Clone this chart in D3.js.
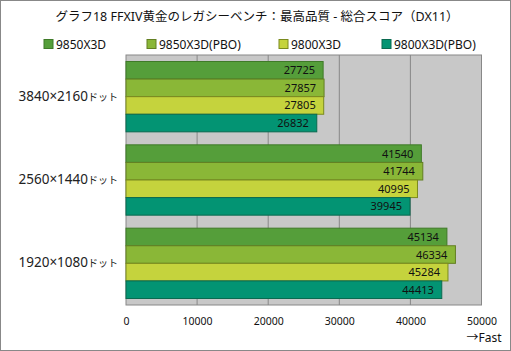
<html><head>
<script src="https://d3js.org/d3.v7.min.js"></script>
<style>
  body { margin: 0; background: #fff; }
  text { font-family: "Noto Sans", "Noto Sans CJK JP", sans-serif; }
</style>
</head><body>
<div id="chart"></div>
<script>
// data
const categories = ["3840×2160", "2560×1440", "1920×1080"];
const series = ["9850X3D", "9850X3D(PBO)", "9800X3D", "9800X3D(PBO)"];
const values9850 = [27725, 41540, 45134];
const values9850pbo = [27857, 41744, 46334];
const values9800 = [27805, 40995, 45284];
const values9800pbo = [26832, 39945, 44413];
const xTicks = [0, 10000, 20000, 30000, 40000, 50000];

const colors = ["#559e3a", "#8ab737", "#c5d33d", "#039473"];
const strokes = ["#3f7a28", "#637f22", "#7a8a1e", "#0a6a50"];

const allValues = [values9850, values9850pbo, values9800, values9800pbo];

const width = 511, height = 351;
const margin = {top: 55, left: 126, right: 29.5, bottom: 46};
const chartWidth = width - margin.left - margin.right;
const chartHeight = height - margin.top - margin.bottom;

let svg = d3.select("#chart").append("svg")
    .attr("width", width).attr("height", height);

// outer frame
svg.append("rect")
    .attr("x", 0.5).attr("y", 0.5)
    .attr("width", width - 1).attr("height", height - 1)
    .attr("fill", "#fff").attr("stroke", "#888");

// title
svg.append("text")
    .attr("x", 257).attr("y", 21)
    .attr("text-anchor", "middle")
    .attr("font-size", 12.5)
    .attr("fill", "#111")
    .text("グラフ18  FFXIV黄金のレガシーベンチ：最高品質 - 総合スコア（DX11）");

// legend
const legendX = [44, 147, 279, 382];
let legend = svg.append("g");
series.forEach((s, i) => {
    legend.append("rect")
        .attr("x", legendX[i]).attr("y", 39.5)
        .attr("width", 9).attr("height", 9)
        .attr("fill", colors[i]).attr("stroke", strokes[i]);
    legend.append("text")
        .attr("x", legendX[i] + 12).attr("y", 48.5)
        .attr("font-size", 12)
        .attr("fill", "#111")
        .text(s);
});

let xScale = d3.scaleLinear().domain([0, 50000]).range([0, chartWidth]);
let yScale = d3.scaleBand().domain(categories).range([0, chartHeight]).paddingInner(0.156).paddingOuter(0.078);
let ySub = d3.scaleBand().domain(series).range([0, yScale.bandwidth()]);

let chart = svg.append("g").attr("transform", "translate(" + margin.left + "," + margin.top + ")");

chart.append("rect")
    .attr("width", chartWidth).attr("height", chartHeight)
    .attr("fill", "#c8c8c8");

// gridlines
chart.selectAll(".grid").data(xTicks.slice(1, -1)).enter().append("line")
    .attr("x1", d => xScale(d)).attr("x2", d => xScale(d))
    .attr("y1", 0).attr("y2", chartHeight)
    .attr("stroke", "#888").attr("stroke-width", 1);

chart.append("rect")
    .attr("x", 0).attr("y", 0)
    .attr("width", chartWidth).attr("height", chartHeight)
    .attr("fill", "none").attr("stroke", "#888");

// bars
categories.forEach((c, ci) => {
    series.forEach((s, si) => {
        const v = allValues[si][ci];
        const y = yScale(c) + ySub(s);
        chart.append("rect")
            .attr("x", 0).attr("y", y)
            .attr("width", xScale(v)).attr("height", ySub.bandwidth())
            .attr("fill", colors[si])
            .attr("stroke", strokes[si]).attr("stroke-width", 1);
        chart.append("text")
            .attr("x", xScale(v) - 8).attr("y", y + ySub.bandwidth() / 2 + 4)
            .attr("text-anchor", "end")
            .attr("font-family", "DejaVu Sans")
            .attr("font-size", 11)
            .attr("fill", "#111")
            .text(v);
    });
    // category label
    let t = svg.append("text")
        .attr("x", margin.left - 8)
        .attr("y", margin.top + yScale(c) + yScale.bandwidth() / 2 + 4)
        .attr("text-anchor", "end")
        .attr("fill", "#222");
    t.append("tspan").attr("font-size", 13.5).text(c);
    t.append("tspan").attr("font-size", 10).text("ドット");
});

// x axis labels
let xAxis = d3.axisBottom(xScale).tickValues(xTicks).tickFormat(d3.format("d")).tickSize(0).tickPadding(13);
let axisG = chart.append("g")
    .attr("transform", "translate(0," + chartHeight + ")")
    .call(xAxis);
axisG.select(".domain").remove();
axisG.selectAll("text")
    .attr("font-family", "DejaVu Sans")
    .attr("font-size", 10.5)
    .attr("fill", "#111");

svg.append("text")
    .attr("x", margin.left + chartWidth + 20).attr("y", 342)
    .attr("text-anchor", "end")
    .attr("font-size", 12)
    .attr("fill", "#111")
    .text("→Fast");
</script>
</body></html>
